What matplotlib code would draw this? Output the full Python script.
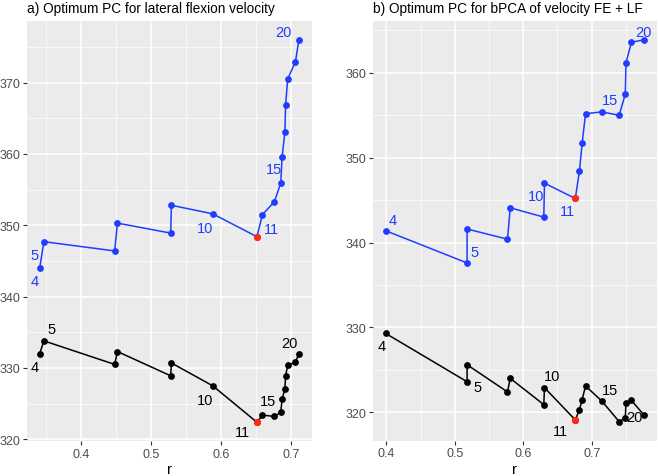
import numpy as np
import matplotlib
matplotlib.use('Agg')
import matplotlib.pyplot as plt
from matplotlib.ticker import MultipleLocator

plt.rcParams['font.family'] = ['Liberation Sans', 'DejaVu Sans']

pcs = list(range(4, 21))

# panel a: lateral flexion velocity
r_a = [0.341, 0.347, 0.448, 0.452, 0.528, 0.529, 0.588, 0.651, 0.659, 0.676,
       0.685, 0.687, 0.691, 0.692, 0.695, 0.706, 0.711]
blue_a = [344.0, 347.7, 346.4, 350.3, 348.9, 352.8, 351.6, 348.4, 351.5, 353.3,
          355.9, 359.6, 363.1, 366.9, 370.5, 372.9, 376.0]
black_a = [332.0, 333.8, 330.5, 332.3, 328.9, 330.7, 327.5, 322.4, 323.4, 323.2,
           323.8, 325.6, 327.1, 328.9, 330.4, 330.8, 332.0]

# panel b: bPCA of velocity FE + LF
r_b = [0.399, 0.518, 0.518, 0.577, 0.581, 0.630, 0.631, 0.676, 0.682, 0.686,
       0.691, 0.715, 0.740, 0.749, 0.750, 0.758, 0.776]
blue_b = [341.4, 337.6, 341.6, 340.4, 344.1, 343.0, 347.0, 345.2, 348.4, 351.7,
          355.2, 355.4, 355.0, 357.5, 361.2, 363.6, 363.9]
black_b = [329.3, 323.6, 325.6, 322.4, 324.0, 320.9, 322.9, 319.1, 320.3, 321.5,
           323.1, 321.3, 318.9, 319.3, 321.1, 321.4, 319.7]

opt_pc = 11
labelled = [4, 5, 10, 11, 15, 20]

BLUE = '#1f3cff'
RED = '#ff2a10'

# label offsets (display pixels) for each labelled PC
offs = {
    'a_blue': {4: (-5, -13), 5: (-9, -13), 10: (-8, -14), 11: (15, 8), 15: (-8, -12), 20: (-15, 8)},
    'a_black': {4: (-5, -13), 5: (8, 12), 10: (-8, -14), 11: (-14, -10), 15: (-14, -2), 20: (-9, 11)},
    'b_blue': {4: (7, 11), 5: (7, 11), 10: (-8, -13), 11: (-8, -13), 15: (8, 12), 20: (0, 8)},
    'b_black': {4: (-4, -13), 5: (10, -5), 10: (8, 12), 11: (-15, -11), 15: (8, 11), 20: (-9, -2)},
}

fig = plt.figure(figsize=(6.58, 4.77), dpi=100)
ax_a = fig.add_axes([0.0406, 0.0727, 0.4334, 0.882])
ax_b = fig.add_axes([0.5664, 0.074, 0.4316, 0.8805])


def draw(ax, r, ys, col, key):
    ax.plot(r, ys, color=col, lw=1.1, zorder=3)
    ax.scatter(r, ys, s=24, color=col, zorder=4, linewidths=0)
    i = pcs.index(opt_pc)
    ax.scatter([r[i]], [ys[i]], s=26, color=RED, zorder=5, linewidths=0)
    for pc in labelled:
        j = pcs.index(pc)
        dx, dy = offs[key][pc]
        ax.annotate(str(pc), (r[j], ys[j]), xytext=(dx, dy), textcoords='offset pixels',
                    ha='center', va='center', fontsize=10.5, color=col, zorder=6)


def style(ax, title):
    ax.set_facecolor('#ebebeb')
    for s in ax.spines.values():
        s.set_visible(False)
    ax.xaxis.set_major_locator(MultipleLocator(0.1))
    ax.xaxis.set_minor_locator(MultipleLocator(0.05))
    ax.yaxis.set_major_locator(MultipleLocator(10))
    ax.yaxis.set_minor_locator(MultipleLocator(5))
    ax.grid(which='major', color='white', lw=1.1)
    ax.grid(which='minor', color='white', lw=0.5)
    ax.set_axisbelow(True)
    ax.tick_params(which='major', length=3, color='#333333', labelcolor='#4d4d4d',
                   labelsize=9, pad=1.5)
    ax.tick_params(which='minor', length=0)
    ax.margins(0.05)
    ax.set_xlabel('r', fontsize=11, labelpad=2)
    ax.set_title(title, loc='left', fontsize=9.8, pad=6)


draw(ax_a, r_a, blue_a, BLUE, 'a_blue')
draw(ax_a, r_a, black_a, 'black', 'a_black')
style(ax_a, 'a) Optimum PC for lateral flexion velocity')

draw(ax_b, r_b, blue_b, BLUE, 'b_blue')
draw(ax_b, r_b, black_b, 'black', 'b_black')
style(ax_b, 'b) Optimum PC for bPCA of velocity FE + LF')

fig.savefig('out.png', dpi=100)
